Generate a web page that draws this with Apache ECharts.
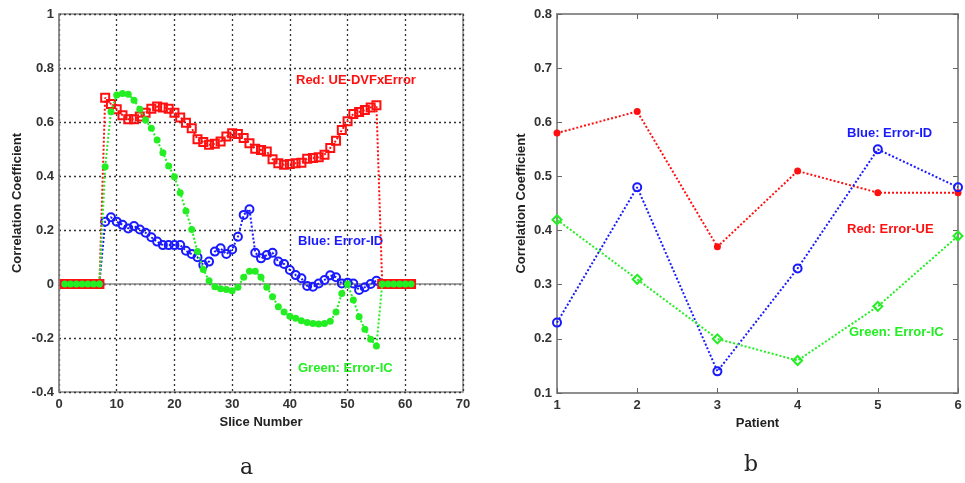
<!DOCTYPE html>
<html>
<head>
<meta charset="utf-8">
<script src="https://cdn.jsdelivr.net/npm/echarts@6/dist/echarts.min.js"></script>
<style>
  html, body { margin: 0; padding: 0; background: #fff; }
  #main { width: 965px; height: 483px; }
</style>
</head>
<body>
<div id="main"></div>
<script>
/* ---------- (a) slice data ---------- */
const sliceNo = [1, 2, 3, 4, 5, 6, 7, 8, 9, 10, 11, 12, 13, 14, 15, 16, 17, 18, 19, 20,
    21, 22, 23, 24, 25, 26, 27, 28, 29, 30, 31, 32, 33, 34, 35, 36, 37, 38, 39, 40,
    41, 42, 43, 44, 45, 46, 47, 48, 49, 50, 51, 52, 53, 54, 55, 56, 57, 58, 59, 60, 61];
const redUE = [0, 0, 0, 0, 0, 0, 0,
    0.690, 0.667, 0.647, 0.625, 0.610, 0.610, 0.620, 0.634, 0.649, 0.657,
    0.654, 0.649, 0.634, 0.617, 0.597, 0.577, 0.536, 0.526, 0.516, 0.519,
    0.528, 0.546, 0.558, 0.556, 0.541, 0.521, 0.501, 0.496, 0.491, 0.462,
    0.447, 0.442, 0.444, 0.447, 0.449, 0.464, 0.467, 0.469, 0.479, 0.504,
    0.531, 0.570, 0.603, 0.630, 0.637, 0.644, 0.654, 0.662,
    0, 0, 0, 0, 0, 0];
const blueID = [0, 0, 0, 0, 0, 0, 0,
    0.231, 0.247, 0.231, 0.219, 0.206, 0.215, 0.202, 0.190, 0.173, 0.157,
    0.144, 0.144, 0.144, 0.144, 0.123, 0.111, 0.099, 0.070, 0.083, 0.120,
    0.132, 0.111, 0.128, 0.175, 0.256, 0.277, 0.116, 0.095, 0.107, 0.116,
    0.083, 0.074, 0.052, 0.033, 0.021, -0.007, -0.010, 0.002, 0.015, 0.032,
    0.025, 0.002, 0.005, 0.002, -0.022, -0.012, 0.000, 0.012,
    0, 0, 0, 0, 0, 0];
const greenIC = [0, 0, 0, 0, 0, 0, 0,
    0.434, 0.638, 0.700, 0.706, 0.703, 0.681, 0.647, 0.607, 0.577, 0.533,
    0.486, 0.437, 0.397, 0.338, 0.270, 0.202, 0.120, 0.054, 0.012, -0.010,
    -0.018, -0.020, -0.025, -0.012, 0.025, 0.047, 0.047, 0.025, -0.012, -0.047,
    -0.084, -0.104, -0.119, -0.127, -0.136, -0.143, -0.146, -0.148, -0.146, -0.138,
    -0.104, -0.035, 0.000, -0.059, -0.121, -0.168, -0.205, -0.230,
    0, 0, 0, 0, 0, 0];

/* ---------- (b) patient data ---------- */
const patients = [1, 2, 3, 4, 5, 6];
const redPat = [0.58, 0.62, 0.37, 0.51, 0.47, 0.47];
const bluePat = [0.23, 0.48, 0.14, 0.33, 0.55, 0.48];
const greenPat = [0.42, 0.31, 0.20, 0.16, 0.26, 0.39];

const RED = '#ff1010', BLUE = '#1a1aff', GREEN = '#22ee22';
const FONT = 'Liberation Sans';
const pair = (xs, ys) => xs.map((x, i) => [x, ys[i]]);
const fmt1 = v => String(+v.toFixed(1));

const labelStyle = { color: '#333', fontWeight: 'bold', fontSize: 13, fontFamily: FONT };
const nameStyle = { color: '#222', fontWeight: 'bold', fontSize: 13, fontFamily: FONT };
const frameLine = { show: true, lineStyle: { color: '#888', width: 1.5 } };

function dotted(color) {
    return { color: color, width: 2, type: [2, 2] };
}
function lineSeries(xi, yi, data, color, symbol, size, hollow, z) {
    return {
        type: 'line', xAxisIndex: xi, yAxisIndex: yi, data: data,
        symbol: symbol, symbolSize: size, showSymbol: true, animation: false,
        lineStyle: dotted(color), z: z,
        itemStyle: hollow
            ? { color: 'rgba(255,255,255,0)', borderColor: color, borderWidth: 2 }
            : { color: color, borderWidth: 0 }
    };
}
function textAt(x, y, str, color) {
    return {
        type: 'text', left: x, top: y,
        style: { text: str, fill: color, font: 'bold 13px "' + FONT + '"' }
    };
}

const chart = echarts.init(document.getElementById('main'));
chart.setOption({
    backgroundColor: '#fff',
    animation: false,
    grid: [
        { left: 59, top: 14, width: 404, height: 378, show: true, borderColor: '#888', borderWidth: 1.5 },
        { left: 557, top: 14, width: 401, height: 379, show: true, borderColor: '#888', borderWidth: 1.5 }
    ],
    xAxis: [
        {
            gridIndex: 0, type: 'value', min: 0, max: 70, interval: 10,
            name: 'Slice Number', nameLocation: 'middle', nameGap: 23, nameTextStyle: nameStyle,
            axisLine: frameLine, axisTick: { show: false },
            axisLabel: { ...labelStyle, margin: 6 },
            splitLine: { show: true, lineStyle: { color: '#333', width: 1.3, type: [2, 3] } }
        },
        {
            gridIndex: 1, type: 'value', min: 1, max: 6, interval: 1,
            name: 'Patient', nameLocation: 'middle', nameGap: 23, nameTextStyle: nameStyle,
            axisLine: frameLine,
            axisTick: { show: true, inside: true, length: 5, lineStyle: { color: '#666' } },
            axisLabel: { ...labelStyle, margin: 6 },
            splitLine: { show: false }
        },
        {
            gridIndex: 1, type: 'value', position: 'top', min: 1, max: 6, interval: 1,
            axisLine: frameLine,
            axisTick: { show: true, inside: true, length: 5, lineStyle: { color: '#666' } },
            axisLabel: { show: false }, splitLine: { show: false }
        }
    ],
    yAxis: [
        {
            gridIndex: 0, type: 'value', min: -0.4, max: 1, interval: 0.2,
            name: 'Correlation Coefficient', nameLocation: 'middle', nameGap: 35, nameTextStyle: nameStyle,
            axisLine: frameLine, axisTick: { show: false },
            axisLabel: { ...labelStyle, margin: 5, formatter: fmt1 },
            splitLine: { show: true, lineStyle: { color: '#333', width: 1.3, type: [2, 3] } }
        },
        {
            gridIndex: 1, type: 'value', min: 0.1, max: 0.8, interval: 0.1,
            name: 'Correlation Coefficient', nameLocation: 'middle', nameGap: 29, nameTextStyle: nameStyle,
            axisLine: frameLine,
            axisTick: { show: true, inside: true, length: 5, lineStyle: { color: '#666' } },
            axisLabel: { ...labelStyle, margin: 5, formatter: fmt1 },
            splitLine: { show: false }
        },
        {
            gridIndex: 1, type: 'value', position: 'right', min: 0.1, max: 0.8, interval: 0.1,
            axisLine: frameLine,
            axisTick: { show: true, inside: true, length: 5, lineStyle: { color: '#666' } },
            axisLabel: { show: false }, splitLine: { show: false }
        }
    ],
    series: [
        lineSeries(0, 0, pair(sliceNo, blueID), BLUE, 'circle', 8, true, 2),
        lineSeries(0, 0, pair(sliceNo, redUE), RED, 'rect', 8, true, 3),
        lineSeries(0, 0, pair(sliceNo, greenIC), GREEN, 'circle', 7, false, 4),
        lineSeries(1, 1, pair(patients, redPat), RED, 'circle', 7, false, 2),
        lineSeries(1, 1, pair(patients, bluePat), BLUE, 'circle', 8, true, 3),
        lineSeries(1, 1, pair(patients, greenPat), GREEN, 'diamond', 9, true, 4)
    ],
    graphic: [
        textAt(296, 74, 'Red: UE-DVFxError', RED),
        textAt(298, 235, 'Blue: Error-ID', BLUE),
        textAt(298, 362, 'Green: Error-IC', GREEN),
        textAt(847, 127, 'Blue: Error-ID', BLUE),
        textAt(847, 223, 'Red: Error-UE', RED),
        textAt(849, 326, 'Green: Error-IC', GREEN),
        { type: 'text', left: 240, top: 457, style: { text: 'a', fill: '#222', font: '22px "DejaVu Serif"' } },
        { type: 'text', left: 744, top: 454, style: { text: 'b', fill: '#222', font: '22px "DejaVu Serif"' } }
    ]
});
</script>
</body>
</html>
